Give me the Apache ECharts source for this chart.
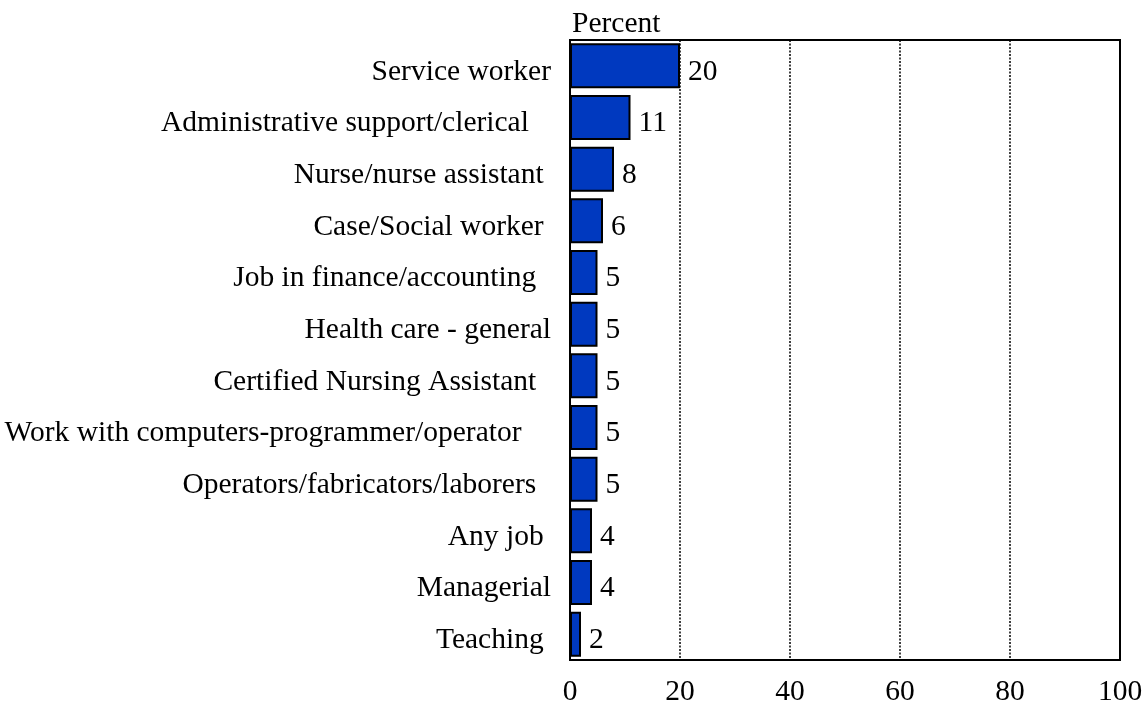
<!DOCTYPE html>
<html>
<head>
<meta charset="utf-8">
<script src="https://cdn.jsdelivr.net/npm/echarts@6/dist/echarts.min.js"></script>
<style>
  html, body { margin: 0; padding: 0; background: #fff; }
  #chart { width: 1147px; height: 704px; }
</style>
</head>
<body>
<div id="chart"></div>
<script>
// Occupations, top to bottom
const categories = [
  'Service worker',
  'Administrative support/clerical   ',
  'Nurse/nurse assistant ',
  'Case/Social worker ',
  'Job in finance/accounting  ',
  'Health care - general',
  'Certified Nursing Assistant  ',
  'Work with computers-programmer/operator    ',
  'Operators/fabricators/laborers  ',
  'Any job ',
  'Managerial',
  'Teaching '
];
// Share of respondents, percent
const percents = [20, 11, 8, 6, 5, 5, 5, 5, 5, 4, 4, 2];
// Horizontal axis ticks
const xTicks = [0, 20, 40, 60, 80, 100];

const font = '"Liberation Serif", "Times New Roman", serif';

const chart = echarts.init(document.getElementById('chart'));
chart.setOption({
  animation: false,
  backgroundColor: '#ffffff',
  title: {
    text: 'Percent',
    left: 567,
    top: 4,
    textStyle: { fontFamily: font, fontSize: 29.5, fontWeight: 'normal', color: '#000' }
  },
  grid: {
    left: 570, right: 27, top: 40, bottom: 44,
    outerBoundsMode: 'none',
    containLabel: false,
    show: true, borderColor: '#000', borderWidth: 2, backgroundColor: 'transparent'
  },
  xAxis: {
    type: 'value',
    min: xTicks[0],
    max: xTicks[xTicks.length - 1],
    interval: xTicks[1] - xTicks[0],
    axisLine: { show: true, lineStyle: { color: '#000', width: 2 } },
    axisTick: { show: false },
    axisLabel: { fontFamily: font, fontSize: 29.5, color: '#000', margin: 17 },
    splitLine: { show: true, lineStyle: { color: '#000', type: [2, 1.5], width: 1.5 } }
  },
  yAxis: {
    type: 'category',
    inverse: true,
    data: categories,
    axisLine: { show: true, lineStyle: { color: '#000', width: 2 } },
    axisTick: { show: false },
    axisLabel: {
      fontFamily: font, fontSize: 29.5, color: '#000', margin: 19,
      verticalAlign: 'top', lineHeight: 12
    }
  },
  series: [{
    type: 'bar',
    data: percents,
    barCategoryGap: '13%',
    itemStyle: { color: '#0039BF', borderColor: '#000', borderWidth: 2 },
    label: {
      show: true,
      position: 'right',
      distance: 8,
      offset: [0, 6],
      fontFamily: font,
      fontSize: 29.5,
      color: '#000'
    }
  }]
});
</script>
</body>
</html>
